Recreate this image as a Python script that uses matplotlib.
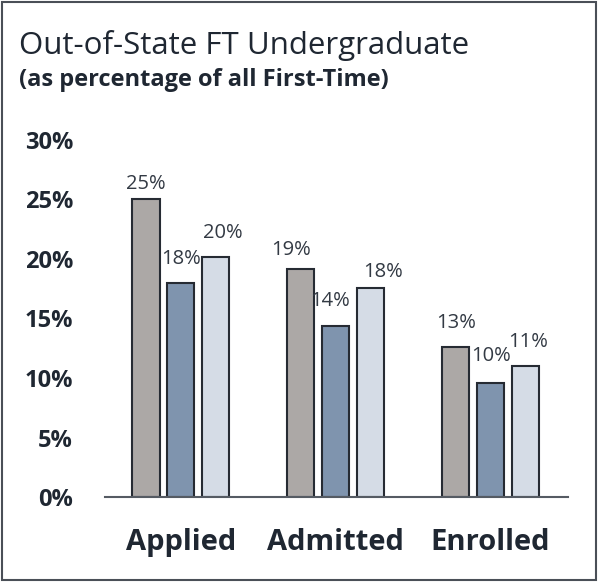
import matplotlib.pyplot as plt
import numpy as np
from matplotlib.patches import Rectangle

categories = ["Applied", "Admitted", "Enrolled"]
series_1 = [25.0, 19.2, 12.6]
series_2 = [18.0, 14.4, 9.6]
series_3 = [20.2, 17.6, 11.0]
y_ticks = [0, 5, 10, 15, 20, 25, 30]

colors = ["#aca8a6", "#7f94ae", "#d5dce6"]
edge = "#262b33"
text_color = "#1f2732"
# label offsets (points) relative to each bar top, per group / series
label_offsets = [
    [(0, 11), (0, 17), (5, 17)],
    [(-7, 13), (-4, 18), (9, 11)],
    [(0, 17), (0, 19), (2, 17)],
]

plt.rcParams["font.family"] = ["Open Sans", "DejaVu Sans"]

fig = plt.figure(figsize=(5.98, 5.82), dpi=100)
ax = fig.add_axes([0.1756, 0.146, 0.7742, 0.6135])

x = np.arange(len(categories))
width = 0.175
step = 0.225
all_series = [series_1, series_2, series_3]
for i, vals in enumerate(all_series):
    pos = x + (i - 1) * step
    ax.bar(pos, vals, width, color=colors[i], edgecolor=edge, linewidth=1.5, zorder=3)
    for j, v in enumerate(vals):
        dx, dy = label_offsets[j][i]
        ax.annotate(f"{v:.0f}%", (pos[j], v), xytext=(dx, dy), textcoords="offset points",
                    ha="center", va="center", fontsize=14.5, color="#333a44")

ax.set_xlim(-0.49, 2.5)
ax.set_ylim(0, 30)
ax.set_yticks(y_ticks)
ax.set_yticklabels([f"{t}%" for t in y_ticks], fontsize=17, fontweight="bold", color=text_color)
ax.set_xticks(x)
ax.set_xticklabels(categories, fontsize=21, fontweight="bold", color=text_color)
ax.tick_params(axis="y", length=0, pad=23)
ax.tick_params(axis="x", length=0, pad=22)
for s in ["left", "right", "top"]:
    ax.spines[s].set_visible(False)
ax.spines["bottom"].set_color("#555b63")
ax.spines["bottom"].set_linewidth(1.5)
ax.spines["bottom"].set_zorder(4)

fig.text(0.032, 0.922, "Out-of-State FT Undergraduate", fontsize=22.5, color=text_color,
         ha="left", va="center")
fig.text(0.032, 0.862, "(as percentage of all First-Time)", fontsize=17, fontweight="bold",
         color=text_color, ha="left", va="center")

fig.patches.append(Rectangle((0.004, 0.004), 0.992, 0.992, transform=fig.transFigure,
                             fill=False, edgecolor="#4a4f57", linewidth=1.5))

fig.savefig("out.png", dpi=100)
